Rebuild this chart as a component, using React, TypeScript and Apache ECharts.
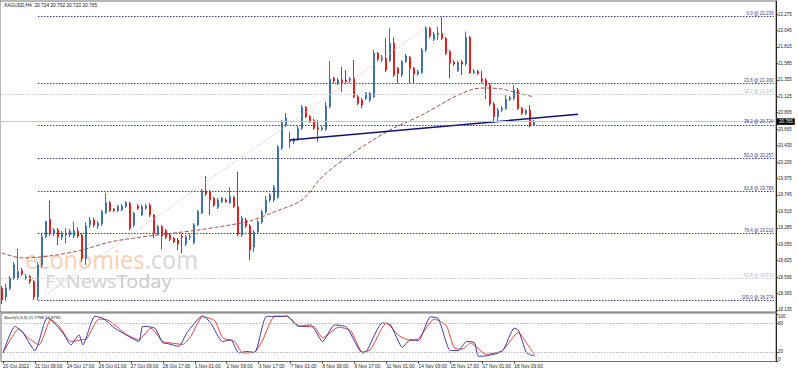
import React, { useEffect, useRef } from 'react';
import * as echarts from 'echarts';

// ---------- data ----------
const TOTAL_SLOTS = 194;
const categories = Array.from({ length: TOTAL_SLOTS }, (_, i) => String(i));

const xTickLabels = [
  '20 Oct 2022', '21 Oct 09:00', '24 Oct 17:00', '26 Oct 01:00', '27 Oct 09:00', '28 Oct 17:00',
  '1 Nov 01:00', '2 Nov 09:00', '3 Nov 17:00', '7 Nov 01:00', '8 Nov 09:00', '9 Nov 17:00',
  '11 Nov 01:00', '14 Nov 09:00', '15 Nov 17:00', '17 Nov 01:00', '18 Nov 09:00',
];

const priceTicks = [
  22.275, 22.045, 21.815, 21.585, 21.355, 21.125, 20.895, 20.665, 20.435, 20.205,
  19.975, 19.745, 19.515, 19.285, 19.055, 18.825, 18.595, 18.365, 18.135,
];
const stochTicks = [0, 20, 80, 100];

// [open, close, low, high]
const candles = [
  [18.439, 18.275, 18.219, 18.471], [18.317, 18.443, 18.261, 18.499], [18.439, 18.579, 18.415, 18.611],
  [18.579, 18.765, 18.555, 18.807], [18.579, 18.671, 18.555, 18.988], [18.685, 18.639, 18.611, 18.723],
  [18.579, 18.601, 18.555, 18.639], [18.601, 18.531, 18.499, 18.625], [18.531, 18.317, 18.275, 18.555],
  [18.317, 18.765, 18.274, 18.807], [18.765, 19.160, 18.723, 19.212], [19.160, 19.370, 19.142, 19.384],
  [19.404, 19.208, 19.170, 19.664], [19.208, 19.254, 19.170, 19.282], [19.254, 19.160, 19.044, 19.282],
  [19.152, 19.208, 19.114, 19.240], [19.184, 19.208, 19.068, 19.278], [19.184, 19.236, 19.156, 19.268],
  [19.170, 19.244, 19.142, 19.370], [19.236, 19.170, 19.142, 19.292], [19.184, 18.858, 18.811, 19.212],
  [18.848, 19.310, 18.765, 19.366], [19.324, 19.394, 19.282, 19.436], [19.394, 19.324, 19.296, 19.422],
  [19.310, 19.348, 19.268, 19.380], [19.338, 19.510, 19.310, 19.534], [19.496, 19.636, 19.478, 19.768],
  [19.636, 19.524, 19.506, 19.660], [19.544, 19.524, 19.506, 19.562], [19.524, 19.580, 19.506, 19.604],
  [19.534, 19.590, 19.520, 19.618], [19.580, 19.636, 19.562, 19.660], [19.628, 19.278, 19.254, 19.646],
  [19.324, 19.488, 19.296, 19.506], [19.590, 19.558, 19.534, 19.618], [19.464, 19.580, 19.450, 19.604],
  [19.558, 19.590, 19.534, 19.618], [19.604, 19.464, 19.436, 19.632], [19.464, 19.208, 19.138, 19.478],
  [19.208, 19.300, 19.184, 19.324], [19.300, 19.170, 18.984, 19.324], [19.244, 19.152, 19.128, 19.268],
  [19.184, 19.124, 19.100, 19.212], [19.138, 19.090, 19.072, 19.156], [19.114, 19.058, 18.974, 19.142],
  [19.170, 19.152, 18.928, 19.198], [19.058, 19.160, 19.030, 19.184], [19.152, 19.170, 19.114, 19.198],
  [19.076, 19.324, 19.058, 19.352], [19.324, 19.510, 19.310, 19.534], [19.496, 19.804, 19.478, 19.828],
  [19.804, 19.758, 19.730, 20.009], [19.790, 19.674, 19.464, 19.814], [19.698, 19.604, 19.576, 19.716],
  [19.572, 19.674, 19.548, 19.702], [19.650, 19.698, 19.632, 19.716], [19.674, 19.650, 19.632, 19.702],
  [19.636, 19.720, 19.618, 19.851], [19.712, 19.580, 19.562, 19.730], [19.580, 19.198, 19.170, 20.065],
  [19.184, 19.418, 19.156, 19.450], [19.394, 19.310, 19.282, 19.422], [19.310, 18.974, 18.835, 19.338],
  [19.016, 19.226, 18.946, 19.254], [19.226, 19.366, 19.198, 19.394], [19.366, 19.506, 19.338, 19.534],
  [19.506, 19.674, 19.478, 19.730], [19.674, 19.744, 19.646, 19.772], [19.674, 19.856, 19.646, 19.884],
  [19.716, 20.415, 19.688, 20.443], [20.401, 20.765, 20.373, 20.793], [20.723, 20.821, 20.695, 20.891],
  [20.489, 20.513, 20.397, 20.629], [20.489, 20.513, 20.457, 20.541], [20.537, 20.677, 20.499, 20.709],
  [20.677, 20.970, 20.653, 21.002], [20.970, 20.839, 20.821, 20.988], [20.839, 20.769, 20.751, 20.863],
  [20.783, 20.677, 20.653, 20.807], [20.685, 20.663, 20.489, 20.793], [20.663, 20.685, 20.639, 20.709],
  [20.663, 20.988, 20.639, 21.049], [20.979, 21.362, 20.961, 21.618], [21.376, 21.338, 21.310, 21.394],
  [21.306, 21.352, 21.282, 21.380], [21.352, 21.314, 21.189, 21.538], [21.352, 21.328, 21.306, 21.492],
  [21.338, 21.370, 21.310, 21.394], [21.376, 21.119, 21.100, 21.632], [21.119, 21.026, 21.002, 21.142],
  [21.072, 21.002, 20.956, 21.100], [21.096, 21.166, 21.072, 21.184], [21.072, 21.166, 21.044, 21.184],
  [21.119, 21.726, 21.100, 21.772], [21.726, 21.642, 21.618, 21.744], [21.632, 21.670, 21.604, 21.702],
  [21.656, 21.492, 21.464, 21.935], [21.622, 21.865, 21.604, 22.075], [21.865, 21.422, 21.394, 21.949],
  [21.516, 21.446, 21.306, 21.534], [21.422, 21.608, 21.394, 21.632], [21.608, 21.688, 21.590, 21.716],
  [21.670, 21.516, 21.306, 21.688], [21.516, 21.436, 21.306, 21.534], [21.436, 21.468, 21.408, 21.492],
  [21.454, 21.772, 21.436, 21.800], [21.772, 22.075, 21.744, 22.107], [22.075, 21.968, 21.940, 22.093],
  [21.921, 21.991, 21.898, 22.023], [21.986, 22.005, 21.912, 22.098], [22.005, 21.935, 21.912, 22.239],
  [21.935, 21.726, 21.702, 21.954], [21.748, 21.586, 21.376, 21.772], [21.604, 21.576, 21.548, 21.632],
  [21.482, 21.594, 21.464, 21.618], [21.604, 21.576, 21.422, 21.632], [21.576, 21.949, 21.548, 22.028],
  [21.949, 21.454, 21.436, 21.968], [21.454, 21.474, 21.436, 21.506], [21.474, 21.446, 21.422, 21.492],
  [21.370, 21.338, 21.310, 21.482], [21.352, 21.268, 21.086, 21.380], [21.282, 21.016, 20.988, 21.310],
  [21.016, 20.839, 20.755, 21.044], [20.839, 20.933, 20.769, 20.961], [20.933, 20.956, 20.905, 20.988],
  [20.956, 21.082, 20.933, 21.142], [21.082, 21.105, 21.058, 21.128], [21.096, 21.212, 21.072, 21.282],
  [21.212, 20.956, 20.933, 21.240], [20.956, 20.886, 20.863, 20.974], [20.886, 20.923, 20.863, 20.947],
  [20.933, 20.709, 20.691, 21.002], [20.724, 20.765, 20.720, 20.792],
];

// moving average readings [barIndex, value]
const maPoints = [
  [0, 18.933], [5, 18.863], [12, 18.891], [20, 18.974], [27, 19.086], [35, 19.156], [43, 19.212],
  [49, 19.254], [54, 19.296], [62, 19.380], [68, 19.506], [75, 19.674], [80, 19.995], [87, 20.303],
  [97, 20.653], [105, 20.863], [113, 21.114], [118, 21.226], [121, 21.240], [125, 21.226],
  [128, 21.184], [133, 21.114],
];

// stochastic %K (blue) and %D (red) readings [barIndex, value]
const stochK = [
  [0, 18], [3, 74], [5, 60], [8, 23], [11, 91], [12, 88], [15, 60], [17, 35], [19, 56], [20, 35],
  [23, 95], [25, 91], [28, 70], [30, 60], [34, 42], [35, 74], [38, 70], [40, 39], [41, 38], [44, 32],
  [46, 60], [50, 96], [52, 81], [55, 42], [57, 46], [59, 18], [61, 21], [63, 19], [66, 95], [70, 95],
  [71, 96], [74, 74], [77, 77], [80, 42], [83, 77], [86, 72], [90, 18], [91, 21], [95, 81], [97, 77],
  [100, 30], [102, 46], [104, 44], [107, 94], [109, 90], [112, 23], [114, 23], [116, 42], [118, 40],
  [119, 11], [121, 12], [125, 22], [128, 70], [129, 66], [131, 19], [132, 14], [133, 11.78],
];
const stochD = [
  [0, 18], [4, 69], [6, 52], [9, 35], [12, 88], [14, 75], [17, 42], [20, 46], [21, 48], [24, 89],
  [26, 88], [29, 70], [31, 56], [34, 46], [37, 70], [40, 42], [42, 39], [45, 36], [47, 53], [50, 94],
  [53, 86], [55, 50], [58, 42], [60, 18], [63, 20], [65, 45], [68, 95], [71, 95], [74, 75], [78, 72],
  [80, 50], [84, 72], [87, 65], [90, 20], [92, 25], [96, 81], [99, 55], [102, 44], [104, 48], [108, 89],
  [111, 75], [113, 28], [115, 26], [117, 39], [121, 15], [125, 23], [129, 61], [131, 40], [133, 13.88],
];

// fibonacci retracement
const fibLevels = [0, 23.6, 38.2, 50, 61.8, 76.4, 100];
const fibPrices = [22.239, 21.3, 20.724, 20.257, 19.789, 19.21, 18.274];
const fibStart = 9;
const fibEnd = 110;
const faintLevels = [38.2, 61.8];
const faintPrices = [21.147, 18.578];

const trendline = [[72, 20.513], [144, 20.872]];
const lastPrice = 20.765;
const titleText = 'XAGUSD,H4  20.724 20.792 20.720 20.765';
const stochTitle = 'Stoch(5,3,3) 11.7798 13.8795';

// ---------- chart ----------
const FONT = 'Liberation Sans, Arial, sans-serif';
const NAVY = '#3b3b92';

function buildOption() {
  const fibLines = fibPrices.map((p, i) => [
    { coord: [fibStart, p], name: `${fibLevels[i].toFixed(1)} @ ${p.toFixed(3)}` },
    { coord: [TOTAL_SLOTS - 1, p] },
  ]);
  const faintLines = faintPrices.map((p, i) => [
    {
      coord: [0, p],
      name: `${faintLevels[i].toFixed(1)} @ ${p.toFixed(3)}`,
      lineStyle: { color: '#c9c9d6', type: [1.5, 1.5], width: 1 },
      label: { color: '#b9b9c9' },
    },
    { coord: [TOTAL_SLOTS - 1, p] },
  ]);

  return {
    animation: false,
    backgroundColor: '#ffffff',
    textStyle: { fontFamily: FONT },
    grid: [
      { left: 0, top: 1, width: 776, height: 311, show: true, borderColor: '#6e6e6e', borderWidth: 1 },
      { left: 0, top: 313, width: 776, height: 48.5, show: true, borderColor: '#6e6e6e', borderWidth: 1 },
    ],
    xAxis: [
      {
        type: 'category', gridIndex: 0, data: categories, boundaryGap: true,
        axisLine: { show: false }, axisTick: { show: false }, axisLabel: { show: false }, splitLine: { show: false },
      },
      {
        type: 'category', gridIndex: 1, data: categories, boundaryGap: true,
        axisLine: { show: false },
        axisTick: {
          show: true, alignWithLabel: true, length: 2, lineStyle: { color: '#333' },
          interval: (i: number) => i % 8 === 0 && i / 8 < xTickLabels.length,
        },
        axisLabel: {
          show: true,
          interval: (i: number) => i % 8 === 0 && i / 8 < xTickLabels.length,
          formatter: (_v: string, i: number) => xTickLabels[i / 8] ?? '',
          align: 'left', fontSize: 4.8, color: '#222', margin: 2, fontFamily: FONT,
        },
        splitLine: { show: false },
      },
    ],
    yAxis: [
      {
        type: 'value', gridIndex: 0, position: 'right', min: 18.107, max: 22.457, scale: true,
        axisLine: { show: true, lineStyle: { color: '#222' } },
        axisTick: { show: true, length: 2, customValues: priceTicks, lineStyle: { color: '#333' } },
        axisLabel: {
          customValues: priceTicks, formatter: (v: number) => v.toFixed(3),
          fontSize: 4.5, color: '#222', margin: 2, fontFamily: FONT,
        },
        splitLine: { show: false },
      },
      {
        type: 'value', gridIndex: 1, position: 'right', min: 0, max: 102,
        axisLine: { show: true, lineStyle: { color: '#222' } },
        axisTick: { show: true, length: 2, customValues: stochTicks, lineStyle: { color: '#333' } },
        axisLabel: {
          customValues: stochTicks, fontSize: 4.5, color: '#222', margin: 2, fontFamily: FONT,
          verticalAlignMinLabel: 'bottom', verticalAlignMaxLabel: 'top',
        },
        splitLine: { show: false },
      },
    ],
    graphic: [
      {
        type: 'text', x: 25, y: 246, scaleX: 0.9, z: -10, silent: true,
        style: {
          text: '{a|economies}{b|.com}',
          rich: {
            a: { fontSize: 26, lineHeight: 26, fill: '#f8d2b6', fontFamily: 'Noto Sans' },
            b: { fontSize: 26, lineHeight: 26, fill: '#d9d9d9', fontFamily: 'Noto Sans' },
          },
        },
      },
      {
        type: 'text', x: 45, y: 273, scaleX: 1.1, z: -10, silent: true,
        style: {
          text: '{a|F}{x|x}{a|News}{t|Today}',
          rich: {
            a: { fontSize: 18, lineHeight: 17, fill: '#d3d3d3', fontFamily: 'Noto Sans' },
            x: { fontSize: 18, lineHeight: 17, fill: '#e4e4e4', fontFamily: 'Noto Sans' },
            t: { fontSize: 18, lineHeight: 17, fill: '#cccccc', fontFamily: 'Noto Sans' },
          },
        },
      },
      {
        type: 'text', left: 4, top: 3, silent: true,
        style: { text: titleText, fontSize: 4.8, fill: '#111', fontFamily: FONT },
      },
      {
        type: 'text', left: 4, top: 315, silent: true,
        style: { text: stochTitle, fontSize: 4.3, fill: '#111', fontFamily: FONT },
      },
    ],
    series: [
      {
        type: 'candlestick', xAxisIndex: 0, yAxisIndex: 0, data: candles, barWidth: 2, z: 2,
        itemStyle: {
          color: '#4172ab', color0: '#e2211c', borderColor: '#4172ab', borderColor0: '#e2211c', borderWidth: 1,
        },
        markLine: {
          silent: true, symbol: ['none', 'none'], animation: false,
          lineStyle: { color: NAVY, type: [1.5, 1.5], width: 1 },
          label: {
            show: true, position: 'insideEndTop', formatter: '{b}', fontSize: 4.5, color: NAVY,
            distance: 0.5, fontFamily: FONT,
          },
          data: [
            ...faintLines,
            ...fibLines,
            [
              { coord: [fibStart, fibPrices[fibPrices.length - 1]], lineStyle: { color: '#dcc8c8', type: [1.5, 1.5], width: 1 }, label: { show: false } },
              { coord: [fibEnd, fibPrices[0]] },
            ],
            {
              yAxis: lastPrice,
              lineStyle: { color: '#bccbdc', type: 'solid', width: 1 },
              label: {
                show: true, position: 'end', formatter: lastPrice.toFixed(3), color: '#fff',
                backgroundColor: '#000', padding: [1, 2, 0.5, 2], fontSize: 4.5, distance: 1,
              },
            },
          ],
        },
      },
      {
        type: 'line', xAxisIndex: 0, yAxisIndex: 0, data: maPoints, showSymbol: false, smooth: 0.3, z: 3,
        lineStyle: { color: '#a4524d', width: 1, type: [4, 2] }, silent: true,
      },
      {
        type: 'line', xAxisIndex: 0, yAxisIndex: 0, data: trendline, showSymbol: false, z: 4,
        lineStyle: { color: '#12126e', width: 1.5 }, silent: true,
      },
      {
        type: 'line', xAxisIndex: 1, yAxisIndex: 1, data: stochK, showSymbol: false, smooth: 0.2, z: 3,
        lineStyle: { color: '#3a3a9a', width: 1 }, silent: true,
        markLine: {
          silent: true, symbol: ['none', 'none'], animation: false, label: { show: false },
          lineStyle: { color: '#b4b4b4', type: [1.5, 1.5], width: 1 },
          data: [{ yAxis: 20 }, { yAxis: 80 }],
        },
      },
      {
        type: 'line', xAxisIndex: 1, yAxisIndex: 1, data: stochD, showSymbol: false, smooth: 0.2, z: 2,
        lineStyle: { color: '#e2403c', width: 1 }, silent: true,
      },
    ],
  };
}

export default function App() {
  const ref = useRef<HTMLDivElement>(null);
  useEffect(() => {
    if (!ref.current) return;
    const chart = echarts.init(ref.current, undefined, { renderer: 'svg' });
    chart.setOption(buildOption() as any);
    return () => chart.dispose();
  }, []);
  return (
    <div
      ref={ref}
      style={{ position: 'fixed', left: 0, top: 0, width: 798, height: 372, background: '#fff' }}
    />
  );
}
